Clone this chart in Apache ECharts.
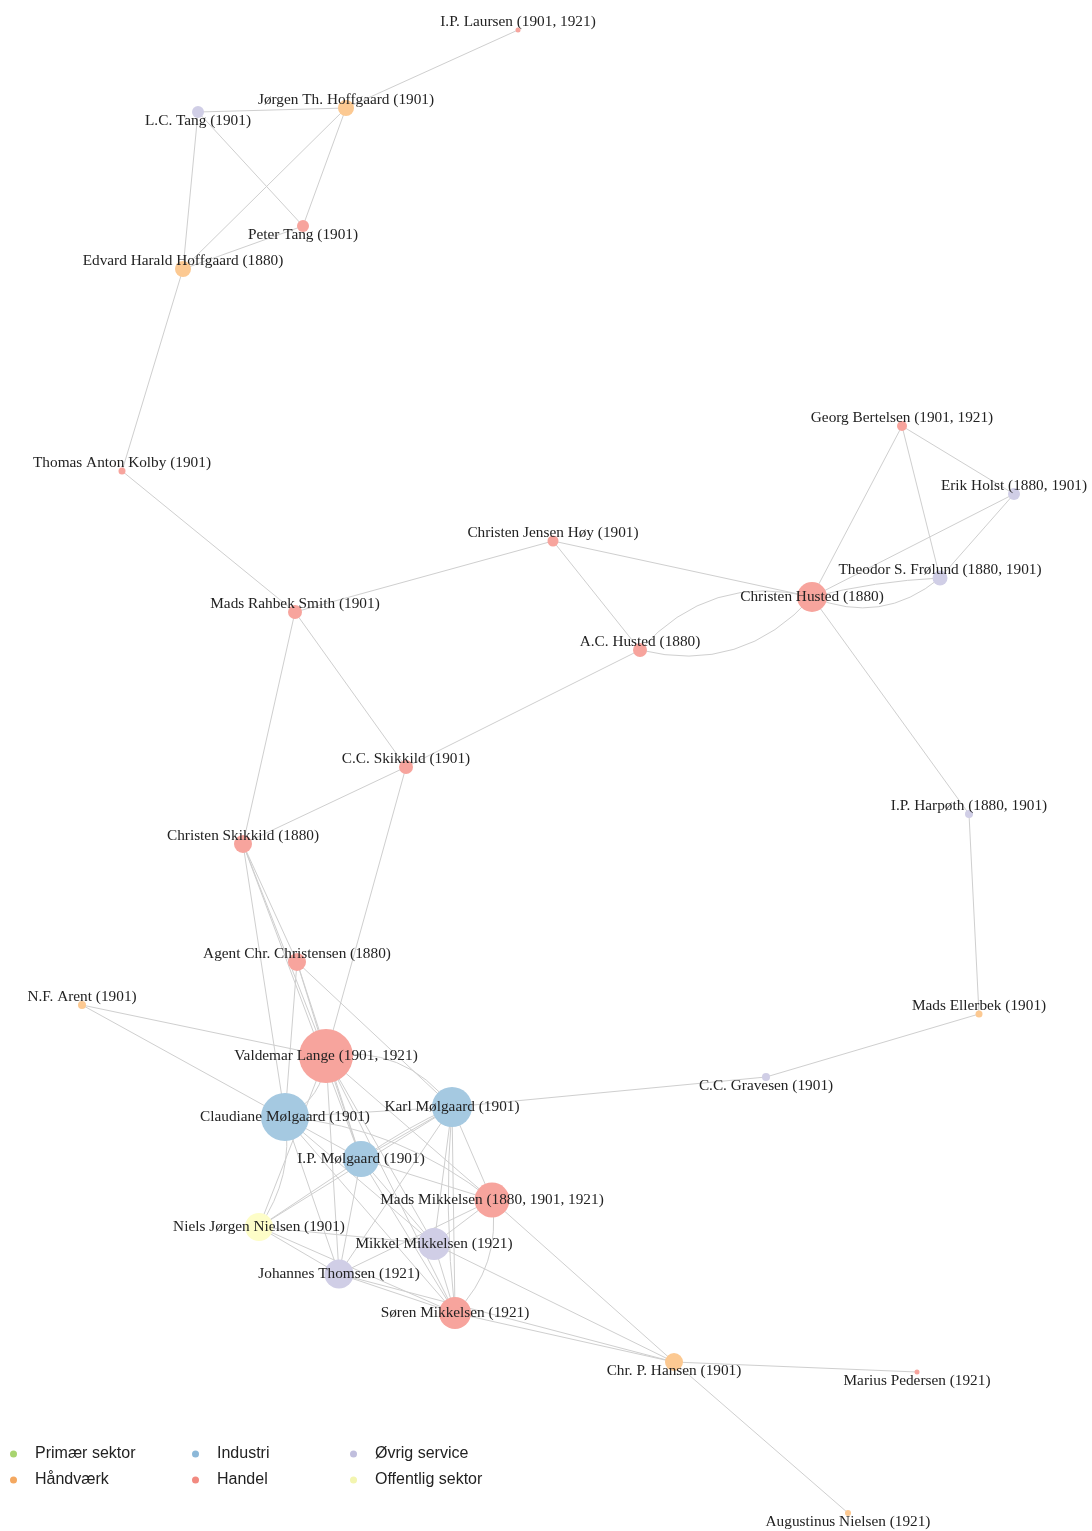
<!DOCTYPE html>
<html>
<head>
<meta charset="utf-8">
<title>Netværk</title>
<script src="https://cdn.jsdelivr.net/npm/echarts@6/dist/echarts.min.js"></script>
<style>
  html, body { margin: 0; padding: 0; background: #fff; }
  #chart { width: 1092px; height: 1531px; }
</style>
</head>
<body>
<div id="chart"></div>
<script>
// sektorer (legend)
const sectors = ['Primær sektor', 'Håndværk', 'Industri', 'Handel', 'Øvrig service', 'Offentlig sektor']

// personer
const names = [
  'I.P. Laursen (1901, 1921)', 'Jørgen Th. Hoffgaard (1901)', 'L.C. Tang (1901)', 'Peter Tang (1901)',
  'Edvard Harald Hoffgaard (1880)', 'Thomas Anton Kolby (1901)', 'Georg Bertelsen (1901, 1921)',
  'Erik Holst (1880, 1901)', 'Christen Jensen Høy (1901)', 'Theodor S. Frølund (1880, 1901)',
  'Christen Husted (1880)', 'Mads Rahbek Smith (1901)', 'A.C. Husted (1880)', 'C.C. Skikkild (1901)',
  'I.P. Harpøth (1880, 1901)', 'Christen Skikkild (1880)', 'Agent Chr. Christensen (1880)',
  'N.F. Arent (1901)', 'Mads Ellerbek (1901)', 'Valdemar Lange (1901, 1921)', 'C.C. Gravesen (1901)',
  'Karl Mølgaard (1901)', 'Claudiane Mølgaard (1901)', 'I.P. Mølgaard (1901)',
  'Mads Mikkelsen (1880, 1901, 1921)', 'Niels Jørgen Nielsen (1901)', 'Mikkel Mikkelsen (1921)',
  'Johannes Thomsen (1921)', 'Søren Mikkelsen (1921)', 'Chr. P. Hansen (1901)',
  'Marius Pedersen (1921)', 'Augustinus Nielsen (1921)'
]
// sektor-indeks pr. person
const nodeSector = [3, 1, 4, 3, 1, 3, 3, 4, 3, 4, 3, 3, 3, 3, 4, 3, 3, 1, 1, 3, 4, 2, 2, 2, 3, 5, 4, 4, 3, 1, 3, 1]
// layout-koordinater (fra netværkslayoutet)
const layoutX = [518, 346, 198, 303, 183, 122, 902, 1014, 553, 940, 812, 295, 640, 406, 969, 243, 297, 82, 979, 326, 766, 452, 285, 361, 492, 259, 434, 339, 455, 674, 917, 848]
const layoutY = [30, 108, 112, 226, 269, 471, 426, 494, 541, 578, 597, 612, 650, 767, 814, 844, 962, 1005, 1014, 1056, 1077, 1107, 1117, 1159, 1200, 1227, 1244, 1274, 1313, 1362, 1372, 1513]
// vægt (nodestørrelse)
const nodeWeight = [2.5, 8, 6, 6, 8, 3.5, 5, 6, 5.5, 7.5, 15, 7, 7, 7, 4, 9, 9, 4, 3.5, 27, 4, 20, 24, 18, 17.5, 14, 16, 14.5, 16, 9, 2.5, 3]

// forbindelser [kilde, mål, krumning]
const edges = [
  [0, 1, 0], [1, 2, 0], [1, 3, 0], [1, 4, 0], [2, 3, 0], [2, 4, 0], [3, 4, 0], [4, 5, 0],
  [5, 11, 0], [11, 8, 0], [11, 13, 0], [11, 15, 0], [8, 12, 0], [8, 10, 0],
  [12, 10, 0.3], [10, 12, 0.3], [10, 6, 0], [10, 7, 0], [10, 9, 0.05], [9, 10, 0.3], [10, 14, 0],
  [6, 7, 0], [6, 9, 0], [7, 9, 0], [12, 13, 0], [13, 15, 0], [13, 19, 0],
  [14, 18, 0], [18, 20, 0], [20, 21, 0],
  [15, 22, 0], [15, 16, 0], [15, 19, 0], [15, 23, 0],
  [16, 19, 0], [16, 22, 0], [16, 21, 0], [16, 23, 0],
  [17, 19, 0], [17, 22, 0],
  [19, 22, 0.3], [19, 21, 0.3], [19, 23, 0], [19, 24, 0], [19, 26, 0], [19, 28, 0], [19, 27, 0], [19, 25, 0],
  [22, 21, 0], [22, 23, 0], [22, 24, 0.15], [22, 26, 0], [22, 28, 0], [22, 27, 0], [22, 25, 0.2],
  [21, 23, 0], [23, 21, 0.05], [21, 24, 0], [21, 26, 0], [21, 28, 0], [28, 21, 0.05], [21, 27, 0], [21, 25, 0],
  [23, 24, 0], [23, 26, 0], [23, 28, 0], [23, 27, 0], [23, 25, 0],
  [24, 26, 0], [24, 28, 0.25], [24, 27, 0], [26, 28, 0], [26, 25, 0], [27, 25, 0], [27, 28, 0], [25, 28, 0],
  [24, 29, 0], [26, 29, 0], [28, 29, 0], [27, 29, 0], [29, 30, 0], [29, 31, 0]
]

const legendColors = ['#a8d46f', '#f4a860', '#8cb8d8', '#f28a80', '#c0bedd', '#f3f5b0']
const nodeColors = ['#c6e49a', '#fcc992', '#a5c9e1', '#f7a49d', '#d0cee6', '#fdfdc8']

// etiket-placering (lodret forskydning)
const labelBelow = [2, 3, 20, 29, 30, 31]
const labelCentered = [10, 19, 21, 22, 23, 24, 25, 26, 27, 28]

const chart = echarts.init(document.getElementById('chart'))

const nodes = names.map((name, i) => {
  let dy = -8
  if (labelBelow.includes(i)) dy = 9
  if (labelCentered.includes(i)) dy = 0
  return {
    name,
    value: [layoutX[i], layoutY[i]],
    category: nodeSector[i],
    symbolSize: nodeWeight[i] * 2,
    itemStyle: { color: nodeColors[nodeSector[i]] },
    label: { offset: [0, dy] }
  }
})

const links = edges.map(([s, t, c]) => ({
  source: names[s],
  target: names[t],
  lineStyle: { curveness: c }
}))

const legendBase = {
  orient: 'vertical',
  icon: 'circle',
  itemWidth: 7,
  itemHeight: 7,
  itemGap: 10,
  top: 1441,
  textStyle: {
    fontFamily: 'Liberation Sans, Arial, sans-serif',
    fontSize: 16,
    color: '#222',
    padding: [0, 0, 0, 13]
  }
}

const option = {
  animation: false,
  backgroundColor: '#fff',
  grid: { left: 0, right: 0, top: 0, bottom: 0 },
  xAxis: { type: 'value', min: 0, max: 1092, show: false },
  yAxis: { type: 'value', min: 0, max: 1531, inverse: true, show: false },
  legend: [
    { ...legendBase, left: 5, data: [sectors[0], sectors[1]] },
    { ...legendBase, left: 187, data: [sectors[2], sectors[3]] },
    { ...legendBase, left: 345, data: [sectors[4], sectors[5]] }
  ],
  series: [
    {
      type: 'graph',
      coordinateSystem: 'cartesian2d',
      categories: sectors.map((s, i) => ({ name: s, itemStyle: { color: legendColors[i] } })),
      data: nodes,
      links: links,
      symbol: 'circle',
      lineStyle: { color: '#cfcfcf', width: 1, opacity: 1 },
      label: {
        show: true,
        position: 'inside',
        fontFamily: 'Liberation Serif, Times New Roman, serif',
        fontSize: 15.3,
        color: '#222'
      },
      emphasis: { disabled: true }
    }
  ]
}

chart.setOption(option)
</script>
</body>
</html>
